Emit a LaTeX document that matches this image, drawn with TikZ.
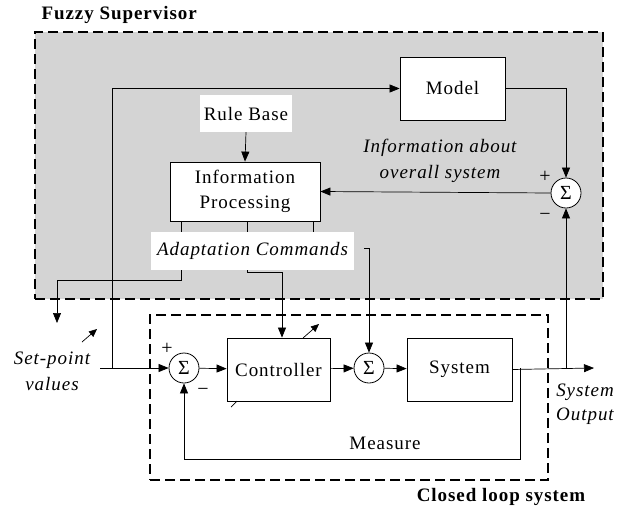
\documentclass[tikz,border=0pt]{standalone}
\usepackage{fontspec}
\setmainfont{Liberation Serif}[LetterSpace=5]
\usetikzlibrary{arrows.meta,calc}
\begin{document}
\begin{tikzpicture}[x=1pt,y=-1pt,
  blk/.style={draw,fill=white,line width=0.8pt,minimum width=105pt,minimum height=63pt,inner sep=0pt,font=\fontsize{19}{25}\selectfont,align=center},
  sum/.style={draw,fill=white,circle,minimum size=30pt,inner sep=0pt,line width=0.8pt,font=\fontsize{20}{20}\selectfont},
  patch/.style={fill=white,inner sep=0pt},
  wire/.style={line width=0.7pt},
  arr/.style={wire,-{Triangle[length=10pt,width=8pt]}},
  grp/.style={line width=2.2pt,dash pattern=on 10pt off 5pt,inner sep=0pt},
  lbl/.style={font=\fontsize{19}{26}\selectfont\itshape,align=center},
  txt/.style={font=\fontsize{19}{22}\selectfont},
  ttl/.style={font=\fontsize{19}{20}\selectfont\bfseries},
  pm/.style={font=\fontsize{20}{20}\selectfont,inner sep=0pt},
]
\useasboundingbox (0,0) rectangle (621,506);
% group boxes
\node[grp,draw,fill=black!17,minimum width=568pt,minimum height=267pt] (fz) at (319,165.5) {};
\node[grp,draw,minimum width=398pt,minimum height=165pt] (cl) at (349,397.5) {};
\node[ttl,anchor=west] (fzt) at (38,15) {Fuzzy Supervisor};
\node[ttl] (clt) at (501,497) {Closed loop system};
% white patches
\node[patch,minimum width=92pt,minimum height=37pt,txt] (rule) at (246,113.5) {Rule Base};
\node[patch,minimum width=203pt,minimum height=38pt,lbl] (adapt) at (252.5,251) {Adaptation Commands};
% blocks
\node[blk] (model) at (452.5,88.5) {Model};
\node[blk,minimum width=150pt,minimum height=59pt] (info) at (245,191.5) {Information\\Processing};
\node[blk,minimum width=103pt] (ctrl) at (278.5,369.5) {Controller};
\node[blk] (sys) at (459.5,369.5) {System};
\node[sum] (s3) at (566,193) {Σ};
\node[sum] (s1) at (184,368) {Σ};
\node[sum] (s2) at (369,368) {Σ};
% labels
\node[lbl] (infol) at (440,161) {Information about\\overall system};
\node[lbl] (spl) at (52,371.5) {Set-point\\values};
\node[lbl,font=\fontsize{19}{24}\selectfont\itshape] (outl) at (585,404) {System\\Output};
\node[txt] (meas) at (385,443) {Measure};
\node[pm] (p3) at (545,177) {+};
\node[pm] (m3) at (545,217) {−};
\node[pm] (p1) at (167,349) {+};
\node[pm] (m1) at (203,392) {−};
% coordinates
\coordinate (sp) at (100,368);
\coordinate (jsp) at (112,368);
\coordinate (out) at (594,368);
\coordinate (tapm) at (520,368);
\coordinate (tapo) at (566,368);
\coordinate (mb) at (184,459);
\coordinate (dn) at (57,323);
\coordinate (a3) at (364,248);
\coordinate (d1a) at (82,342);
\coordinate (d1b) at (97,329);
\coordinate (d2a) at (303,338);
\coordinate (d2b) at (319,324);
\coordinate (t2a) at (231,407);
\coordinate (t2b) at (237,401);
% wires
\draw[arr] (sp) -- (s1.west);
\draw[arr] (jsp) |- (model.west);
\draw[arr] (s1) -- (ctrl);
\draw[arr] (ctrl) -- (s2);
\draw[arr] (s2) -- (sys);
\draw[arr] (sys.east) -- (out);
\draw[arr] (tapm) |- (mb) -- (s1.south);
\draw[arr] (tapo) -- (s3.south);
\draw[arr] (model.east) -| (s3.north);
\draw[arr] (s3.west) -- (info.east);
\draw[arr] (rule.south) -- (info.north);
\foreach \x in {181,247,313} \draw[wire] (info.south -| \x,0) -- (adapt.north -| \x,0);
\draw[arr] (adapt.south -| 181,0) -- (181,280) -| (dn);
\draw[arr] (adapt.south -| 247,0) -- (247,272) -| (ctrl.north -| 282,0);
\draw[arr] (a3) -| (s2.north);
\draw[wire,-{Triangle[length=8pt,width=7pt]}] (d1a) -- (d1b);
\draw[wire,-{Triangle[length=8pt,width=7pt]}] (d2a) -- (d2b);
\draw[wire] (t2a) -- (t2b);
\end{tikzpicture}
\end{document}
